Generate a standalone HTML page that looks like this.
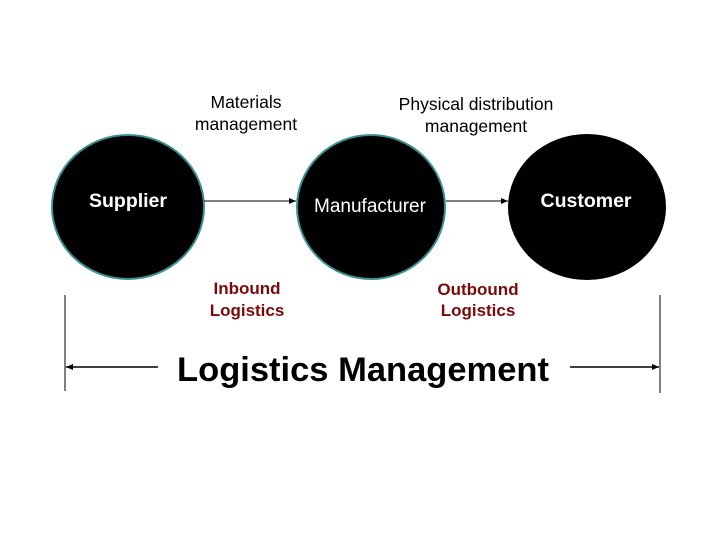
<!DOCTYPE html>
<html><head><meta charset="utf-8"><style>
body{margin:0;background:#fff;}
svg{display:block;font-family:"Liberation Sans",Arial,sans-serif;}
</style></head><body>
<svg width="720" height="540" viewBox="0 0 720 540">
<defs><marker id="a" markerWidth="8" markerHeight="8" refX="7" refY="4" orient="auto" markerUnits="userSpaceOnUse"><path d="M0,1 L7,4 L0,7 z" fill="#000"/></marker></defs>
<text x="246" y="108" font-size="17.5" text-anchor="middle">Materials</text>
<text x="246" y="130" font-size="17.5" text-anchor="middle">management</text>
<text x="476" y="110" font-size="17.5" text-anchor="middle">Physical distribution</text>
<text x="476" y="132" font-size="17.5" text-anchor="middle">management</text>
<ellipse cx="128" cy="207" rx="76" ry="72" fill="#000" stroke="#3a8f8f" stroke-width="2"/>
<ellipse cx="371" cy="207" rx="74" ry="72" fill="#000" stroke="#3a8f8f" stroke-width="2"/>
<ellipse cx="587" cy="207" rx="79" ry="73" fill="#000"/>
<line x1="204" y1="201" x2="296" y2="201" stroke="#000" stroke-width="1" marker-end="url(#a)"/>
<line x1="446" y1="201" x2="508" y2="201" stroke="#000" stroke-width="1" marker-end="url(#a)"/>
<text x="128" y="207" font-size="19.5" font-weight="bold" fill="#fff" text-anchor="middle">Supplier</text>
<text x="370" y="212" font-size="19" fill="#fff" text-anchor="middle">Manufacturer</text>
<text x="586" y="207" font-size="19.5" font-weight="bold" fill="#fff" text-anchor="middle">Customer</text>
<text x="247" y="294" font-size="17" font-weight="bold" fill="#7a0a0a" text-anchor="middle">Inbound</text>
<text x="247" y="316" font-size="17" font-weight="bold" fill="#7a0a0a" text-anchor="middle">Logistics</text>
<text x="478" y="295" font-size="17" font-weight="bold" fill="#7a0a0a" text-anchor="middle">Outbound</text>
<text x="478" y="316" font-size="17" font-weight="bold" fill="#7a0a0a" text-anchor="middle">Logistics</text>
<line x1="65" y1="295" x2="65" y2="391" stroke="#000" stroke-width="1"/>
<line x1="660" y1="295" x2="660" y2="393" stroke="#000" stroke-width="1"/>
<line x1="158" y1="367" x2="66" y2="367" stroke="#000" stroke-width="1.5" marker-end="url(#a)"/>
<line x1="570" y1="367" x2="659" y2="367" stroke="#000" stroke-width="1.5" marker-end="url(#a)"/>
<text x="363" y="381" font-size="34.5" font-weight="bold" text-anchor="middle">Logistics Management</text>
</svg>
</body></html>
